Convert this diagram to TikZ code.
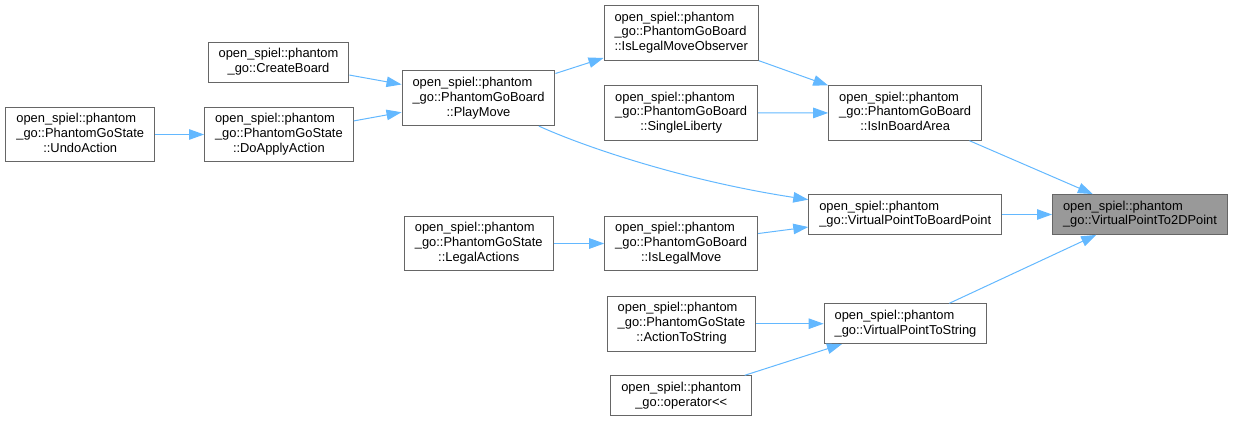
\documentclass[tikz,border=0pt]{standalone}
\usepackage{fontspec}
\setmainfont{Liberation Sans}
\usepackage{xcolor}
\usetikzlibrary{arrows.meta}

\definecolor{boxgray}{HTML}{666666}
\definecolor{hitgray}{HTML}{999999}
\definecolor{callblue}{HTML}{63B8FF}

% first lines left, last line centred
\newcommand{\fnname}[2]{\begin{tabular}{@{}l@{}}#1\\\multicolumn{1}{@{}c@{}}{#2}\end{tabular}}

\begin{document}
\begin{tikzpicture}[
    x=1pt, y=-1pt,
    font=\fontsize{12.9}{14.8}\selectfont,
    fnbox/.style={draw=boxgray, line width=1pt, fill=white, inner xsep=10.5pt, inner ysep=5.1pt},
    curbox/.style={fnbox, fill=hitgray},
    call/.style={callblue, line width=1pt, -{Triangle[length=15pt, width=10.5pt]}}
]
\useasboundingbox (0,0) rectangle (1235,422);

% ---------- column 1 ----------
\node[fnbox] (undoaction) at (80.2,134.5) {\fnname{open\_spiel::phantom\\\_go::PhantomGoState}{::UndoAction}};

% ---------- column 2 ----------
\node[fnbox] (createboard) at (278.5,62.3) {\fnname{open\_spiel::phantom}{\_go::CreateBoard}};
\node[fnbox] (doapplyaction) at (278.9,134.5) {\fnname{open\_spiel::phantom\\\_go::PhantomGoState}{::DoApplyAction}};

% ---------- column 3 ----------
\node[fnbox] (playmove) at (478.5,98.3) {\fnname{open\_spiel::phantom\\\_go::PhantomGoBoard}{::PlayMove}};
\node[fnbox] (legalactions) at (478.7,243.5) {\fnname{open\_spiel::phantom\\\_go::PhantomGoState}{::LegalActions}};

% ---------- column 4 ----------
\node[fnbox] (islegalmoveobserver) at (681.2,33) {\fnname{open\_spiel::phantom\\\_go::PhantomGoBoard}{::IsLegalMoveObserver}};
\node[fnbox] (singleliberty) at (681.2,113) {\fnname{open\_spiel::phantom\\\_go::PhantomGoBoard}{::SingleLiberty}};
\node[fnbox] (islegalmove) at (681.2,243.5) {\fnname{open\_spiel::phantom\\\_go::PhantomGoBoard}{::IsLegalMove}};
\node[fnbox] (actiontostring) at (681.5,323.7) {\fnname{open\_spiel::phantom\\\_go::PhantomGoState}{::ActionToString}};
\node[fnbox] (operatorout) at (681.2,395.7) {\fnname{open\_spiel::phantom}{\_go::operator<\kern0pt<}};

% ---------- column 5 ----------
\node[fnbox] (isinboardarea) at (905.2,112.9) {\fnname{open\_spiel::phantom\\\_go::PhantomGoBoard}{::IsInBoardArea}};
\node[fnbox] (toboardpoint) at (905.2,214.5) {\fnname{open\_spiel::phantom}{\_go::VirtualPointToBoardPoint}};
\node[fnbox] (tostring) at (905.5,323.7) {\fnname{open\_spiel::phantom}{\_go::VirtualPointToString}};

% ---------- column 6: the function itself ----------
\node[curbox] (to2dpoint) at (1140,214.5) {\fnname{open\_spiel::phantom}{\_go::VirtualPointTo2DPoint}};

% ---------- calls ----------
\draw[call] (undoaction) -- (doapplyaction);
\draw[call] (createboard) -- (playmove);
\draw[call] (doapplyaction) -- (playmove);
\draw[call] (playmove) -- (islegalmoveobserver);
\draw[call] (playmove) .. controls (580,145) and (680,180) .. (toboardpoint);
\draw[call] (legalactions) -- (islegalmove);
\draw[call] (islegalmoveobserver) -- (isinboardarea);
\draw[call] (singleliberty) -- (isinboardarea);
\draw[call] (islegalmove) -- (toboardpoint);
\draw[call] (actiontostring) -- (tostring);
\draw[call] (operatorout) -- (tostring);
\draw[call] (isinboardarea) -- (to2dpoint);
\draw[call] (toboardpoint) -- (to2dpoint);
\draw[call] (tostring) -- (to2dpoint);

\end{tikzpicture}
\end{document}
